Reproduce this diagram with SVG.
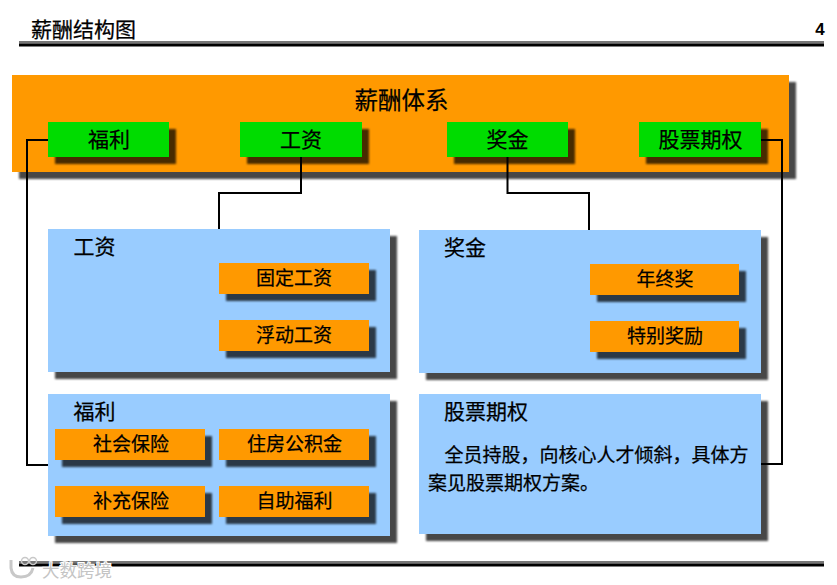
<svg xmlns="http://www.w3.org/2000/svg" width="837" height="585" viewBox="0 0 837 585">
<defs>
<filter id="soft" x="-10%" y="-10%" width="120%" height="120%"><feGaussianBlur stdDeviation="0.9"/></filter>
</defs>
<style>
text{font-family:"Noto Sans CJK SC","Liberation Serif",serif;fill:#000;stroke:#000;stroke-width:.25;text-anchor:middle;dominant-baseline:central}
.s{fill:#000;fill-opacity:.72;filter:url(#soft)}
.o{fill:#f90}
.g{fill:#00dc00}
.b{fill:#9cf}
.l{font-size:19px}
.h{font-size:21px}
.st{text-anchor:start}
.c{fill:none;stroke:#000;stroke-width:2}
.wm{fill:none;stroke:#c8c8c8}
</style>
<rect width="837" height="585" fill="#fff"/>
<g id="header">
<text class="h st" x="31" y="27.500">薪酬结构图</text>
<text x="820" y="29.500" style="font-family:'Liberation Sans',sans-serif;font-size:17px;font-weight:bold;stroke-width:0">4</text>
<rect x="19" y="41" width="805" height="2.500" fill="#777"/>
<rect x="19" y="43.500" width="805" height="3" fill="#000"/>
</g>
<g id="system">
<rect class="s" x="19" y="82" width="777" height="97"/>
<rect class="o" x="12" y="75" width="777" height="97"/>
<text x="401.500" y="98.500" style="font-size:23.500px">薪酬体系</text>
</g>
<g id="node-top-fuli"><rect class="s" x="55" y="129" width="121" height="35"/><rect class="g" x="48" y="122" width="121" height="35"/><text class="h" x="109" y="138">福利</text></g>
<g id="node-top-gongzi"><rect class="s" x="247" y="129" width="122" height="35"/><rect class="g" x="240" y="122" width="122" height="35"/><text class="h" x="301" y="138">工资</text></g>
<g id="node-top-jiangjin"><rect class="s" x="454" y="129" width="121" height="35"/><rect class="g" x="447" y="122" width="121" height="35"/><text class="h" x="507.500" y="138">奖金</text></g>
<g id="node-top-guquan"><rect class="s" x="646" y="129" width="122" height="35"/><rect class="g" x="639" y="122" width="122" height="35"/><text class="h" x="700.500" y="138">股票期权</text></g>
<g id="panel-gongzi">
<rect class="s" x="55" y="236" width="342" height="143"/><rect class="b" x="48" y="229" width="342" height="143"/>
<text class="h st" x="73.500" y="244.500">工资</text>
<rect class="s" x="226" y="270" width="150" height="31"/><rect class="o" x="219" y="263" width="150" height="31"/><text class="l" x="294" y="276.500">固定工资</text>
<rect class="s" x="226" y="327" width="150" height="31"/><rect class="o" x="219" y="320" width="150" height="31"/><text class="l" x="294" y="333.500">浮动工资</text>
</g>
<g id="panel-jiangjin">
<rect class="s" x="426" y="237" width="342" height="143"/><rect class="b" x="419" y="230" width="342" height="143"/>
<text class="h st" x="444" y="245.500">奖金</text>
<rect class="s" x="597" y="271" width="149" height="31"/><rect class="o" x="590" y="264" width="149" height="31"/><text class="l" x="665" y="277.500">年终奖</text>
<rect class="s" x="597" y="328" width="149" height="31"/><rect class="o" x="590" y="321" width="149" height="31"/><text class="l" x="665" y="334.500">特别奖励</text>
</g>
<g id="panel-fuli">
<rect class="s" x="55" y="401" width="342" height="142"/><rect class="b" x="48" y="394" width="342" height="142"/>
<text class="h st" x="73.500" y="409.500">福利</text>
<rect class="s" x="62" y="436" width="150" height="31"/><rect class="o" x="55" y="429" width="150" height="31"/><text class="l" x="131" y="442.500">社会保险</text>
<rect class="s" x="226" y="436" width="150" height="31"/><rect class="o" x="219" y="429" width="150" height="31"/><text class="l" x="294.500" y="442.500">住房公积金</text>
<rect class="s" x="62" y="493" width="150" height="31"/><rect class="o" x="55" y="486" width="150" height="31"/><text class="l" x="131" y="499.500">补充保险</text>
<rect class="s" x="226" y="493" width="150" height="31"/><rect class="o" x="219" y="486" width="150" height="31"/><text class="l" x="294.500" y="499.500">自助福利</text>
</g>
<g id="panel-guquan">
<rect class="s" x="426" y="401" width="342" height="140"/><rect class="b" x="419" y="394" width="342" height="140"/>
<text class="h st" x="444" y="409.500">股票期权</text>
<text class="l st" x="444.500" y="453.500">全员持股，向核心人才倾斜，具体方</text>
<text class="l st" x="428" y="481.500">案见股票期权方案。</text>
</g>
<g id="connectors">
<path class="c" d="M48 140H27V465H48"/>
<path class="c" d="M301 157V193H219V229"/>
<path class="c" d="M507.500 157V193H589V230"/>
<path class="c" d="M761 140H782V464H761"/>
</g>
<g id="footer">
<rect x="19" y="561" width="805" height="2.500" fill="#777"/>
<rect x="19" y="563.500" width="805" height="3" fill="#000"/>
</g>
<g id="watermark">
<text class="st" x="42" y="569" style="font-size:17.500px;fill:#c4c4c4;stroke:#fff;stroke-width:2;paint-order:stroke">大数跨境</text>
<path class="wm" d="M11 560v8q1 9 10 9 10 0 12-9" stroke-width="3"/>
<circle class="wm" cx="25" cy="561" r="3.500" stroke-width="1.500"/>
<circle class="wm" cx="33" cy="561" r="3.500" stroke-width="1.500"/>
</g>
</svg>
